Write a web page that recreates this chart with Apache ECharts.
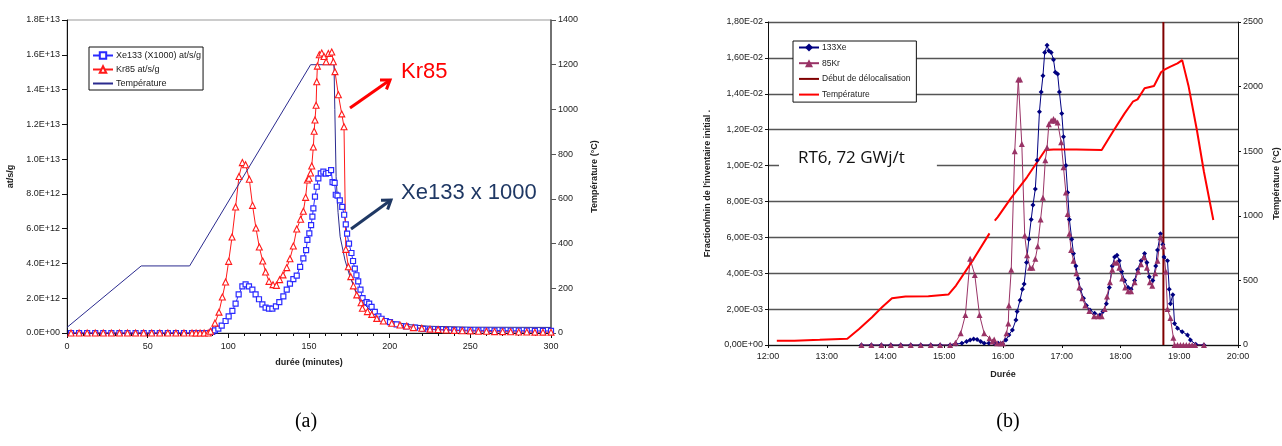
<!DOCTYPE html>
<html>
<head>
<meta charset="utf-8">
<script src="https://cdn.jsdelivr.net/npm/echarts@6/dist/echarts.min.js"></script>
<style>
  html, body { margin: 0; padding: 0; background: #fff; }
  #chart { width: 1282px; height: 446px; }
</style>
</head>
<body>
<div id="chart"></div>
<script>
// ---- panel (a): minutes vs at/s/g (values in units of 1E+12) ----
const xe133A = [
  [2.5,0],[7.5,0],[12.5,0],[17.5,0],[22.5,0],[27.5,0],[32.5,0],[37.5,0],[42.5,0],[47.5,0],
  [52.5,0],[57.5,0],[62.5,0],[67.5,0],[72.5,0],[77.5,0],[80,0],[82.5,0],[85,0],[87.5,0],
  [90,0.06],[91.7,0.15],[93.8,0.25],[95.9,0.42],[98.3,0.69],[100.2,0.96],[102.5,1.27],[104.5,1.69],
  [106.4,2.22],[108.7,2.68],[110.7,2.8],[112.8,2.68],[114.9,2.49],[116.9,2.22],[119,1.94],[121.1,1.65],
  [123.1,1.46],[125.2,1.4],[127.3,1.4],[129.5,1.53],[131.6,1.78],[134.1,2.11],[136.2,2.49],[138.2,2.84],
  [140.3,3.1],[142.4,3.3],[144.5,3.8],[146.5,4.29],[148.2,4.77],[149,5.35],[150.2,5.73],[151.3,6.2],
  [152.1,6.69],[152.7,7.17],[153.7,7.84],[154.8,8.41],[155.8,8.89],[157.3,9.18],[158.9,9.28],[160.5,9.16],
  [162,9.2],[163.7,9.37],[164.6,8.68],[165.9,8.63],[166.6,7.95],[167.7,7.9],[169.1,7.63],[170.6,7.25],
  [171.8,6.8],[172.8,6.25],[173.6,5.71],[174.8,5.14],[176.3,4.6],[177.3,4.14],[178.4,3.7],[179.4,3.32],
  [180.5,2.97],[181.9,2.49],[183.2,2.01],[185.7,1.78],[187.3,1.69],[188.8,1.5],[190.8,1.21],[193,0.96],
  [195,0.82],[197.7,0.69],[200.2,0.63],[204.3,0.5],[210.1,0.38],[215.7,0.31],[220.8,0.23],[225,0.2],
  [230,0.19],[235,0.18],[240,0.17],[245,0.16],[250,0.16],[255,0.15],[260,0.15],[265,0.14],[270,0.14],
  [275,0.13],[280,0.13],[285,0.13],[290,0.12],[295,0.12],[300,0.12]
];
const kr85A = [
  [2.5,0],[7.5,0],[12.5,0],[17.5,0],[22.5,0],[27.5,0],[32.5,0],[37.5,0],[42.5,0],[47.5,0],
  [52.5,0],[57.5,0],[62.5,0],[67.5,0],[72.5,0],[77.5,0],[80,0],[82.5,0],[85,0],[87.5,0],
  [89,0.1],[91.7,0.57],[94.2,1.2],[96.3,2.07],[98.3,2.93],[100.2,4.12],[102.3,5.52],[104.5,7.25],
  [106.6,9.0],[108.7,9.8],[110.7,9.68],[113,8.84],[115,7.34],[117.1,6.04],[119.2,4.95],[121.3,4.14],
  [123.1,3.51],[125.2,2.97],[127.7,2.78],[129.8,2.74],[131.8,3.07],[133.9,3.34],[136.2,3.76],[138.2,4.27],
  [140.3,5.0],[142.4,5.98],[144.8,6.54],[146.5,7.0],[147.9,7.8],[149,8.8],[150,8.9],[151,9.2],
  [151.7,9.6],[152.7,10.7],[153.2,11.6],[153.7,12.25],[154.4,13.1],[154.8,14.45],[155.2,15.35],[156.4,16.0],
  [157.9,16.1],[159.3,15.9],[160.6,15.6],[162,16.08],[164.1,16.16],[165.1,15.6],[166.1,15.03],[168.2,13.7],
  [170.3,12.6],[171.7,11.86],[172.8,4.81],[174.4,3.81],[175.9,3.24],[177.5,2.71],[179.6,2.19],[182.3,1.74],
  [183.1,1.42],[186.2,1.23],[188.9,1.07],[192,0.84],[196.1,0.69],[201.3,0.56],[206.4,0.46],[210.6,0.4],
  [214.7,0.31],[219.9,0.27],[225,0.22],[230,0.2],[235,0.17],[240,0.15],[245,0.13],[250,0.12],
  [255,0.1],[260,0.1],[265,0.08],[270,0.08],[275,0.07],[280,0.06],[285,0.06],[290,0.05],[295,0.05],[300,0.05]
];
const tempA = [
  [0,25],[46,300],[76,300],[151,1200],[165.5,1200],[166,1000],[166.8,700],[168,540],[169.3,431],
  [172.3,326],[175.4,252],[179.6,178],[183.7,133],[189.9,88],[198.2,58],[210.6,38],[225,30],[250,26],[300,25]
];

// ---- panel (b): hours vs fraction/min ----
const xe133B = [
  [13.59,0],[13.76,0],[13.93,0],[14.09,0],[14.26,0],[14.43,0],[14.6,0],[14.77,0],[14.93,0],[15.1,0],
  [15.2,0.00005],[15.3,0.0001],[15.38,0.0002],[15.44,0.00028],[15.5,0.00033],[15.56,0.0003],[15.62,0.0002],
  [15.68,0.0001],[15.76,0.0001],[15.85,0.0001],[15.92,0.0001],[15.99,0.0001],[16.05,0.00028],[16.1,0.00056],
  [16.16,0.00084],[16.22,0.0014],[16.24,0.00186],[16.29,0.0025],[16.33,0.0031],[16.36,0.0034],[16.4,0.0046],
  [16.44,0.0059],[16.48,0.007],[16.51,0.0078],[16.55,0.0087],[16.58,0.0103],[16.62,0.013],[16.65,0.0141],
  [16.68,0.015],[16.71,0.0163],[16.75,0.0167],[16.78,0.0164],[16.82,0.0163],[16.86,0.0159],[16.89,0.0152],
  [16.93,0.0151],[16.96,0.0141],[17,0.0129],[17.03,0.0116],[17.07,0.01],[17.1,0.0085],[17.13,0.007],
  [17.17,0.0059],[17.2,0.0051],[17.24,0.0044],[17.28,0.0037],[17.32,0.0031],[17.37,0.0026],[17.42,0.0022],
  [17.48,0.00195],[17.56,0.00177],[17.65,0.00167],[17.7,0.00186],[17.76,0.0023],[17.81,0.0032],[17.86,0.0044],
  [17.9,0.0049],[17.94,0.005],[17.98,0.0047],[18.02,0.0041],[18.07,0.0036],[18.13,0.0032],[18.18,0.0031],
  [18.24,0.0036],[18.29,0.0042],[18.35,0.0047],[18.41,0.0051],[18.45,0.0046],[18.49,0.0038],[18.55,0.0036],
  [18.6,0.0044],[18.63,0.0053],[18.68,0.0062],[18.72,0.0056],[18.74,0.0049],[18.8,0.0047],[18.83,0.0031],
  [18.85,0.0023],[18.89,0.0028],[18.92,0.0012],[18.97,0.00093],[19.05,0.00074],[19.14,0.00056],[19.19,0.00028],
  [19.28,0.00004],[19.42,0]
];
const kr85B = [
  [13.59,0],[13.76,0],[13.93,0],[14.09,0],[14.26,0],[14.43,0],[14.6,0],[14.77,0],[14.93,0],[15.1,0],
  [15.19,0.00013],[15.28,0.00065],[15.36,0.00167],[15.44,0.0048],[15.52,0.0039],[15.6,0.00167],[15.68,0.00065],
  [15.77,0.00037],[15.82,0.0002],[15.85,0.0003],[15.9,0.0001],[15.96,0.0001],[16,0.0001],[16.06,0.00065],
  [16.09,0.0012],[16.1,0.0022],[16.14,0.0042],[16.2,0.0108],[16.26,0.0148],[16.29,0.0148],[16.32,0.0112],
  [16.37,0.0061],[16.41,0.005],[16.46,0.0043],[16.5,0.0043],[16.55,0.0048],[16.59,0.0055],[16.64,0.007],
  [16.68,0.0082],[16.72,0.0103],[16.75,0.011],[16.78,0.0123],[16.82,0.0125],[16.86,0.0126],[16.89,0.0125],
  [16.93,0.0124],[16.99,0.0113],[17.03,0.0099],[17.07,0.0085],[17.1,0.0073],[17.13,0.0062],[17.16,0.0053],
  [17.2,0.0047],[17.25,0.004],[17.3,0.0032],[17.35,0.0026],[17.4,0.0022],[17.47,0.0019],[17.55,0.0016],
  [17.62,0.0016],[17.68,0.0016],[17.73,0.002],[17.77,0.0027],[17.82,0.0035],[17.86,0.0042],[17.9,0.0046],
  [17.94,0.0046],[17.98,0.0043],[18.03,0.0037],[18.08,0.0032],[18.13,0.003],[18.18,0.003],[18.24,0.0035],
  [18.3,0.0041],[18.35,0.0045],[18.4,0.0049],[18.45,0.0043],[18.5,0.0035],[18.54,0.0033],[18.59,0.004],
  [18.63,0.0047],[18.68,0.006],[18.73,0.0055],[18.77,0.0041],[18.8,0.002],[18.85,0.0015],[18.9,0.0004],
  [18.92,0],[18.97,0],[19.02,0],[19.07,0],[19.12,0],[19.17,0],[19.22,0],[19.27,0],[19.42,0]
];
const delocB = [[18.73,0],[18.73,0.018]];
const tempB = [
  [12.15,33],[12.45,33],[12.88,40],[13.35,49],[13.55,124],[13.77,215],[13.94,292],[14.11,362],[14.34,375],
  [14.73,377],[15.07,390],[15.2,460],[15.5,665],[15.77,864],[15.82,'-'],[15.86,962],[15.91,990],[16.13,1133],
  [16.41,1300],[16.72,1509],[16.86,1514],[17.25,1514],[17.68,1509],[17.87,1651],[18.07,1793],[18.21,1883],
  [18.29,1901],[18.41,1987],[18.57,2005],[18.69,2111],[18.74,2129],[18.85,2155],[18.88,2165],[18.97,2180],
  [19.05,2205],[19.08,2205],[19.16,2000],[19.3,1664],[19.42,1341],[19.44,1328],[19.58,967]
];

const FONT = 'Liberation Sans, Arial, sans-serif';
const label = { fontSize: 9, color: '#222', fontFamily: FONT };
const axisName = { fontSize: 9, fontWeight: 'bold', color: '#222', fontFamily: FONT };
// thin bar used as legend icon for the plain lines
const LINE_ICON = 'path://M0,0H20V2H0Z';

function sciA(v) {
  if (v === 0) return '0.0E+00';
  const x = v * 1e12;
  const e = Math.floor(Math.log10(x) + 1e-9);
  return (x / Math.pow(10, e)).toFixed(1) + 'E+' + e;
}
function sciB(v) {
  if (v === 0) return '0,00E+00';
  const e = Math.floor(Math.log10(v) + 1e-9);
  const m = (v / Math.pow(10, e)).toFixed(2).replace('.', ',');
  const p = Math.abs(e) < 10 ? '0' + Math.abs(e) : '' + Math.abs(e);
  return m + (e < 0 ? 'E-' : 'E+') + p;
}

// open arrow (shaft + two head strokes)
function arrow(x1, y1, x2, y2, color) {
  const a = Math.atan2(y2 - y1, x2 - x1), h = 10, s = 0.6;
  return {
    type: 'group', z: 100,
    children: [
      { type: 'line', shape: { x1, y1, x2, y2 }, style: { stroke: color, lineWidth: 3 } },
      { type: 'polyline',
        shape: { points: [
          [x2 - h * Math.cos(a - s), y2 - h * Math.sin(a - s)],
          [x2, y2],
          [x2 - h * Math.cos(a + s), y2 - h * Math.sin(a + s)]
        ] },
        style: { stroke: color, lineWidth: 3, fill: null } }
    ]
  };
}

const chart = echarts.init(document.getElementById('chart'));
chart.setOption({
  animation: false,
  backgroundColor: '#fff',
  grid: [
    { left: 67, top: 20, width: 484, height: 313, show: true, borderColor: '#999', borderWidth: 1 },
    { left: 768, top: 22, width: 475, height: 323 }
  ],
  legend: [
    {
      data: ['Xe133 (X1000) at/s/g', 'Kr85 at/s/g', { name: 'Température', icon: LINE_ICON }],
      orient: 'vertical', left: 89, top: 47,
      padding: [4, 2, 2, 3], itemGap: 5, itemWidth: 20, itemHeight: 8,
      backgroundColor: '#fff', borderColor: '#111', borderWidth: 1, borderRadius: 0,
      textStyle: { fontSize: 9, color: '#222', fontFamily: FONT, padding: [0, 0, 0, -2] },
      selectedMode: false
    },
    {
      data: ['133Xe', '85Kr',
        { name: 'Début de délocalisation', icon: LINE_ICON },
        { name: 'Température ', icon: LINE_ICON }],
      orient: 'vertical', left: 793, top: 41,
      padding: [2, 6, 3, 5], itemGap: 6.7, itemWidth: 20, itemHeight: 10,
      backgroundColor: '#fff', borderColor: '#111', borderWidth: 1, borderRadius: 0,
      textStyle: { fontSize: 8.5, color: '#222', fontFamily: FONT, padding: [0, 0, 0, -2] },
      selectedMode: false
    }
  ],
  xAxis: [
    {
      gridIndex: 0, type: 'value', min: 0, max: 300, interval: 50,
      name: 'durée (minutes)', nameLocation: 'middle', nameGap: 25, nameTextStyle: axisName,
      axisLine: { lineStyle: { color: '#111', width: 1 } },
      axisTick: { length: 5, lineStyle: { color: '#111' } },
      minorTick: { show: true, splitNumber: 5, length: 3, lineStyle: { color: '#111' } },
      axisLabel: Object.assign({ margin: 9 }, label),
      splitLine: { show: false }
    },
    {
      gridIndex: 1, type: 'value', min: 12, max: 20, interval: 1,
      name: 'Durée', nameLocation: 'middle', nameGap: 25, nameTextStyle: axisName,
      axisLine: { lineStyle: { color: '#111', width: 1 } },
      axisTick: { length: 3, lineStyle: { color: '#111' } },
      axisLabel: Object.assign({ margin: 7, formatter: v => v + ':00' }, label),
      splitLine: { show: false }
    }
  ],
  yAxis: [
    {
      gridIndex: 0, type: 'value', min: 0, max: 18, interval: 2, position: 'left',
      name: 'at/s/g', nameLocation: 'middle', nameGap: 52, nameTextStyle: axisName,
      axisLine: { show: true, lineStyle: { color: '#111', width: 1 } },
      axisTick: { show: true, length: 5, lineStyle: { color: '#111' } },
      axisLabel: Object.assign({ margin: 7, formatter: sciA }, label),
      splitLine: { show: false }
    },
    {
      gridIndex: 0, type: 'value', min: 0, max: 1400, interval: 200, position: 'right',
      name: 'Température (°C)', nameLocation: 'middle', nameGap: 39, nameTextStyle: axisName,
      axisLine: { show: true, lineStyle: { color: '#555', width: 1.5 } },
      axisTick: { show: true, length: 5, lineStyle: { color: '#555' } },
      axisLabel: Object.assign({ margin: 7, formatter: v => String(v) }, label),
      splitLine: { show: false }
    },
    {
      gridIndex: 1, type: 'value', min: 0, max: 0.018, interval: 0.002, position: 'left',
      name: "Fraction/min de l'inventaire initial .", nameLocation: 'middle', nameGap: 56, nameTextStyle: axisName,
      axisLine: { show: true, lineStyle: { color: '#111', width: 1 } },
      axisTick: { show: true, length: 3, lineStyle: { color: '#111' } },
      axisLabel: Object.assign({ margin: 5, formatter: sciB }, label),
      splitLine: { show: true, lineStyle: { color: '#555', width: 1.3 } }
    },
    {
      gridIndex: 1, type: 'value', min: 0, max: 2500, interval: 500, position: 'right',
      name: 'Température (°C)', nameLocation: 'middle', nameGap: 34, nameTextStyle: axisName,
      axisLine: { show: true, lineStyle: { color: '#111', width: 1 } },
      axisTick: { show: true, length: 3, lineStyle: { color: '#111' } },
      axisLabel: Object.assign({ margin: 5, formatter: v => String(v) }, label),
      splitLine: { show: false }
    }
  ],
  series: [
    {
      name: 'Xe133 (X1000) at/s/g', type: 'line', xAxisIndex: 0, yAxisIndex: 0, data: xe133A,
      symbol: 'rect', symbolSize: 5,
      itemStyle: { color: '#fff', borderColor: '#2a2aff', borderWidth: 1.2 },
      lineStyle: { color: '#2a2aff', width: 1 }
    },
    {
      name: 'Kr85 at/s/g', type: 'line', xAxisIndex: 0, yAxisIndex: 0, data: kr85A,
      symbol: 'triangle', symbolSize: 6,
      itemStyle: { color: '#fff', borderColor: '#ff1a1a', borderWidth: 1.1 },
      lineStyle: { color: '#ff1a1a', width: 1 }
    },
    {
      name: 'Température', type: 'line', xAxisIndex: 0, yAxisIndex: 1, data: tempA,
      symbol: 'none', itemStyle: { color: '#2b2b8f' },
      lineStyle: { color: '#2b2b8f', width: 1 }
    },
    {
      name: '133Xe', type: 'line', xAxisIndex: 1, yAxisIndex: 2, data: xe133B,
      symbol: 'diamond', symbolSize: 5,
      itemStyle: { color: '#000080' }, lineStyle: { color: '#000080', width: 1 }
    },
    {
      name: '85Kr', type: 'line', xAxisIndex: 1, yAxisIndex: 2, data: kr85B,
      symbol: 'triangle', symbolSize: 6,
      itemStyle: { color: '#993366' }, lineStyle: { color: '#993366', width: 1 }
    },
    {
      name: 'Début de délocalisation', type: 'line', xAxisIndex: 1, yAxisIndex: 2, data: delocB,
      symbol: 'none', itemStyle: { color: '#800000' }, lineStyle: { color: '#800000', width: 2 }
    },
    {
      name: 'Température ', type: 'line', xAxisIndex: 1, yAxisIndex: 3, data: tempB,
      symbol: 'none', connectNulls: false,
      itemStyle: { color: '#ff0000' }, lineStyle: { color: '#ff0000', width: 2 }
    }
  ],
  graphic: [
    { type: 'text', z: 100, x: 401, y: 72,
      style: { text: 'Kr85', fill: '#ff0000', fontSize: 22, fontFamily: FONT, verticalAlign: 'middle' } },
    { type: 'text', z: 100, x: 401, y: 193,
      style: { text: 'Xe133 x 1000', fill: '#1f3864', fontSize: 22, fontFamily: FONT, verticalAlign: 'middle' } },
    arrow(350, 108, 390, 80, '#ff0000'),
    arrow(351, 229, 391, 200, '#1f3864'),
    { type: 'text', z: 100, x: 779, y: 158,
      style: { text: 'RT6, 72 GWj/t', fill: '#111', fontSize: 17, fontFamily: 'Open Sans, sans-serif',
        verticalAlign: 'middle', backgroundColor: '#fff', padding: [5, 32, 5, 19] } },
    { type: 'text', z: 100, x: 306, y: 422,
      style: { text: '(a)', fill: '#000', fontSize: 20, fontFamily: 'Liberation Serif, serif', align: 'center', verticalAlign: 'middle' } },
    { type: 'text', z: 100, x: 1008, y: 422,
      style: { text: '(b)', fill: '#000', fontSize: 20, fontFamily: 'Liberation Serif, serif', align: 'center', verticalAlign: 'middle' } }
  ]
});
</script>
</body>
</html>
